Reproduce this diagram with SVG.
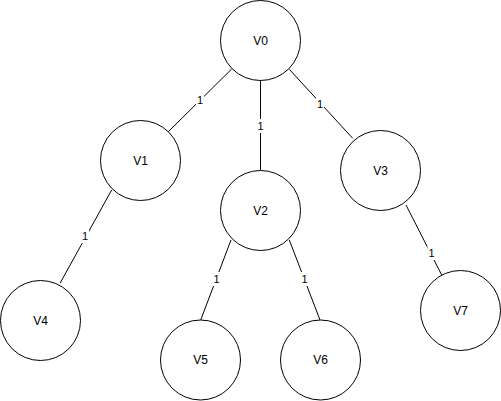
<svg xmlns="http://www.w3.org/2000/svg" width="501" height="401" viewBox="0 0 501 401">
<style>
.node circle{fill:#fff;stroke:#000;stroke-width:1}
.node text{font-family:"Liberation Sans",Arial,Helvetica,sans-serif;font-size:12px;fill:#000;text-anchor:middle;dominant-baseline:central}
.edge line{stroke:#000;stroke-width:1}
.lbl rect{fill:#fff}
.lbl text{font-family:"Liberation Sans",Arial,Helvetica,sans-serif;font-size:11px;fill:#000;text-anchor:middle;dominant-baseline:central}
</style>
<rect width="501" height="401" fill="#fff"/>
<g id="edges">
  <g class="edge"><line x1="231.7" y1="69" x2="168.3" y2="131.7"/><g class="lbl"><rect x="196" y="93" width="8" height="14"/><text x="200" y="100">1</text></g></g>
  <g class="edge"><line x1="260.5" y1="80" x2="260.5" y2="170"/><g class="lbl"><rect x="256" y="119" width="9" height="14"/><text x="260.5" y="126">1</text></g></g>
  <g class="edge"><line x1="289.3" y1="69.3" x2="352.7" y2="138.3"/><g class="lbl"><rect x="316" y="97" width="8" height="14"/><text x="320" y="104">1</text></g></g>
  <g class="edge"><line x1="111.7" y1="190" x2="60" y2="283.3"/><g class="lbl"><rect x="81" y="229" width="8" height="14"/><text x="85" y="236">1</text></g></g>
  <g class="edge"><line x1="231" y1="240" x2="200.7" y2="320"/><g class="lbl"><rect x="212.5" y="272" width="8" height="14"/><text x="216.5" y="279">1</text></g></g>
  <g class="edge"><line x1="289.3" y1="240" x2="320" y2="320"/><g class="lbl"><rect x="300.5" y="272" width="8" height="14"/><text x="304.5" y="279">1</text></g></g>
  <g class="edge"><line x1="406" y1="205" x2="441.7" y2="275"/><g class="lbl"><rect x="427.5" y="246" width="8" height="14"/><text x="431.5" y="253">1</text></g></g>
</g>
<g id="V0" class="node"><circle cx="260.5" cy="40.5" r="40"/><text x="260.5" y="40.5">V0</text></g>
<g id="V1" class="node"><circle cx="140.5" cy="160.5" r="40"/><text x="140.5" y="160.5">V1</text></g>
<g id="V2" class="node"><circle cx="260.5" cy="210.5" r="40"/><text x="260.5" y="210.5">V2</text></g>
<g id="V3" class="node"><circle cx="380.5" cy="170.5" r="40"/><text x="380.5" y="170.5">V3</text></g>
<g id="V4" class="node"><circle cx="40.5" cy="320.5" r="40"/><text x="40.5" y="320.5">V4</text></g>
<g id="V5" class="node"><circle cx="200.5" cy="360" r="40"/><text x="200.5" y="360">V5</text></g>
<g id="V6" class="node"><circle cx="320.5" cy="360" r="40"/><text x="320.5" y="360">V6</text></g>
<g id="V7" class="node"><circle cx="460.5" cy="310.5" r="40"/><text x="460.5" y="310.5">V7</text></g>
</svg>
